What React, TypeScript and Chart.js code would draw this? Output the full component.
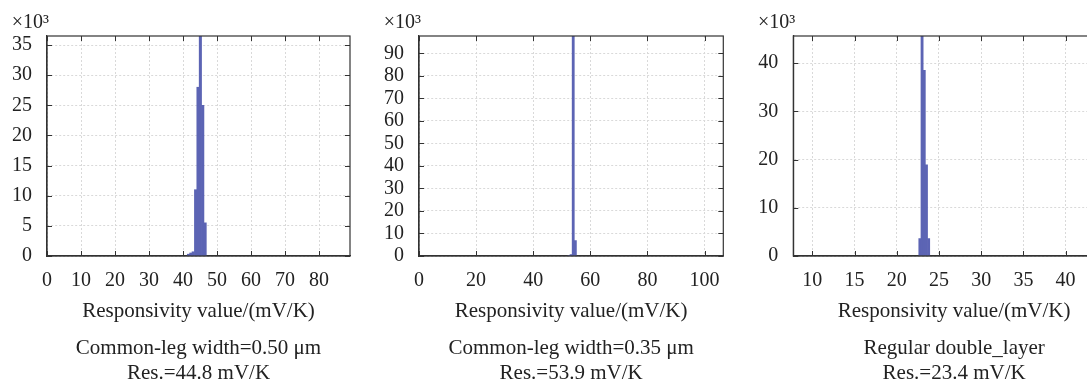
import React, { useEffect, useRef } from 'react';
import { Chart, registerables } from 'chart.js';

Chart.register(...registerables);

// ---------- data ----------
const axisTitle = 'Responsivity value/(mV/K)';
const multiplierLabel = '×10³';

// Panel 1: common-leg width 0.50 µm (counts in thousands)
const p1Bins = [41.6, 42.3, 43.0, 43.7, 44.4, 45.1, 45.8, 46.5];
const p1Counts = [0.3, 0.5, 0.7, 11, 28, 40, 25, 5.5];
const p1XTicks = [0, 10, 20, 30, 40, 50, 60, 70, 80];
const p1YTicks = [0, 5, 10, 15, 20, 25, 30, 35];
const p1Caption = ['Common-leg width=0.50 μm', 'Res.=44.8 mV/K'];

// Panel 2: common-leg width 0.35 µm
const p2Bins = [52.5, 53.25, 54.0, 54.75];
const p2Counts = [0.2, 0.6, 110, 6.8];
const p2XTicks = [0, 20, 40, 60, 80, 100];
const p2YTicks = [0, 10, 20, 30, 40, 50, 60, 70, 80, 90];
const p2Caption = ['Common-leg width=0.35 μm', 'Res.=53.9 mV/K'];

// Panel 3: regular double layer
const p3Bins = [22.74, 23.0, 23.26, 23.52, 23.78];
const p3Counts = [3.6, 50, 38.5, 18.9, 3.6];
const p3XTicks = [10, 15, 20, 25, 30, 35, 40];
const p3YTicks = [0, 10, 20, 30, 40];
const p3Caption = ['Regular double_layer', 'Res.=23.4 mV/K'];

// ---------- styling / layout ----------
const FONT = "'Liberation Serif', 'Times New Roman', serif";
const TEXT = '#222222';
const AXIS = '#333333';
const GRID = '#d9d9d9';
const BAR_FILL = '#5c64b4';
const BAR_EDGE = '#4c539f';
const CANVAS_H = 400;

type Panel = {
  bins: number[];
  counts: number[];
  xTicks: number[];
  yTicks: number[];
  caption: string[];
  xMin: number;
  xMax: number;
  yMax: number;
  left: number;
  width: number;
  yAxisWidth: number;
  rightPad: number;
};

const panels: Panel[] = [
  { bins: p1Bins, counts: p1Counts, xTicks: p1XTicks, yTicks: p1YTicks, caption: p1Caption,
    xMin: 0, xMax: 89.1, yMax: 36.5, left: 0, width: 365, yAxisWidth: 47, rightPad: 15 },
  { bins: p2Bins, counts: p2Counts, xTicks: p2XTicks, yTicks: p2YTicks, caption: p2Caption,
    xMin: 0, xMax: 106.55, yMax: 97.7, left: 365, width: 370, yAxisWidth: 54, rightPad: 11.7 },
  { bins: p3Bins, counts: p3Counts, xTicks: p3XTicks, yTicks: p3YTicks, caption: p3Caption,
    xMin: 7.75, xMax: 45.85, yMax: 45.6, left: 735, width: 390, yAxisWidth: 58.3, rightPad: 10 },
];

const framePlugin = {
  id: 'frame',
  afterDraw(chart: any) {
    const { ctx, chartArea: a, scales } = chart;
    const p: Panel = chart.options.plugins.frame.panel;
    ctx.save();
    ctx.strokeStyle = AXIS;
    ctx.lineWidth = 1.2;
    ctx.strokeRect(a.left, a.top, a.right - a.left, a.bottom - a.top);
    ctx.lineWidth = 1;
    ctx.beginPath();
    const tl = 5;
    p.xTicks.forEach((v) => {
      const x = Math.round(scales.x.getPixelForValue(v)) + 0.5;
      ctx.moveTo(x, a.bottom);
      ctx.lineTo(x, a.bottom - tl);
      ctx.moveTo(x, a.top);
      ctx.lineTo(x, a.top + tl);
    });
    p.yTicks.forEach((v) => {
      const y = Math.round(scales.y.getPixelForValue(v)) + 0.5;
      ctx.moveTo(a.left, y);
      ctx.lineTo(a.left + tl, y);
      ctx.moveTo(a.right, y);
      ctx.lineTo(a.right - tl, y);
    });
    ctx.stroke();
    ctx.fillStyle = TEXT;
    ctx.font = `20px ${FONT}`;
    ctx.textAlign = 'right';
    ctx.textBaseline = 'alphabetic';
    ctx.fillText(multiplierLabel, a.left + 2, 28);
    ctx.restore();
  },
};

function PanelChart({ panel }: { panel: Panel }) {
  const ref = useRef<HTMLCanvasElement | null>(null);
  useEffect(() => {
    if (!ref.current) return;
    const chart = new Chart(ref.current, {
      type: 'bar',
      data: {
        datasets: [
          {
            data: panel.bins.map((x, i) => ({ x, y: panel.counts[i] })) as any,
            backgroundColor: BAR_FILL,
            borderColor: BAR_EDGE,
            borderWidth: 0,
            barPercentage: 1,
            categoryPercentage: 1,
            clip: 0 as any,
          },
        ],
      },
      options: {
        animation: false,
        responsive: false,
        devicePixelRatio: 1,
        events: [],
        layout: { padding: { top: 36, bottom: 14.5, left: 0, right: panel.rightPad } },
        plugins: {
          legend: { display: false },
          tooltip: { enabled: false },
          title: {
            display: true,
            position: 'bottom',
            fullSize: false,
            text: panel.caption,
            color: TEXT,
            font: { family: FONT, size: 21, weight: 'normal', lineHeight: '25px' as any },
            padding: 0,
          },
          frame: { panel } as any,
        } as any,
        scales: {
          x: {
            type: 'linear',
            min: panel.xMin,
            max: panel.xMax,
            offset: false,
            afterFit: (s: any) => { s.height = 79.5; },
            afterBuildTicks: (s: any) => { s.ticks = panel.xTicks.map((v) => ({ value: v })); },
            ticks: {
              padding: 12.5,
              color: TEXT,
              font: { family: FONT, size: 20 },
              maxRotation: 0,
              autoSkip: false,
              callback: (v: any) => String(v),
            },
            grid: { color: GRID, drawTicks: false, offset: false, lineWidth: 1 },
            border: { display: true, color: AXIS, width: 1.2, dash: [2, 2] },
            title: {
              display: true,
              text: axisTitle,
              color: TEXT,
              font: { family: FONT, size: 21 },
              padding: { top: 0, bottom: 11.9 },
            },
          },
          y: {
            type: 'linear',
            min: 0,
            max: panel.yMax,
            afterFit: (s: any) => { s.width = panel.yAxisWidth; },
            afterBuildTicks: (s: any) => { s.ticks = panel.yTicks.map((v) => ({ value: v })); },
            ticks: {
              padding: 15,
              color: TEXT,
              font: { family: FONT, size: 20 },
              autoSkip: false,
              callback: (v: any) => String(v),
            },
            grid: { color: GRID, drawTicks: false, lineWidth: 1 },
            border: { display: true, color: AXIS, width: 1.2, dash: [2, 2] },
          },
        },
      } as any,
      plugins: [framePlugin],
    });
    return () => chart.destroy();
  }, [panel]);
  return (
    <canvas
      ref={ref}
      width={panel.width}
      height={CANVAS_H}
      style={{ position: 'absolute', left: panel.left, top: 0, width: panel.width, height: CANVAS_H }}
    />
  );
}

export default function App() {
  return (
    <div
      style={{
        position: 'absolute',
        left: 0,
        top: 0,
        width: 1087,
        height: 381,
        overflow: 'hidden',
        background: '#ffffff',
      }}
    >
      {panels.map((p, i) => (
        <PanelChart key={i} panel={p} />
      ))}
    </div>
  );
}
